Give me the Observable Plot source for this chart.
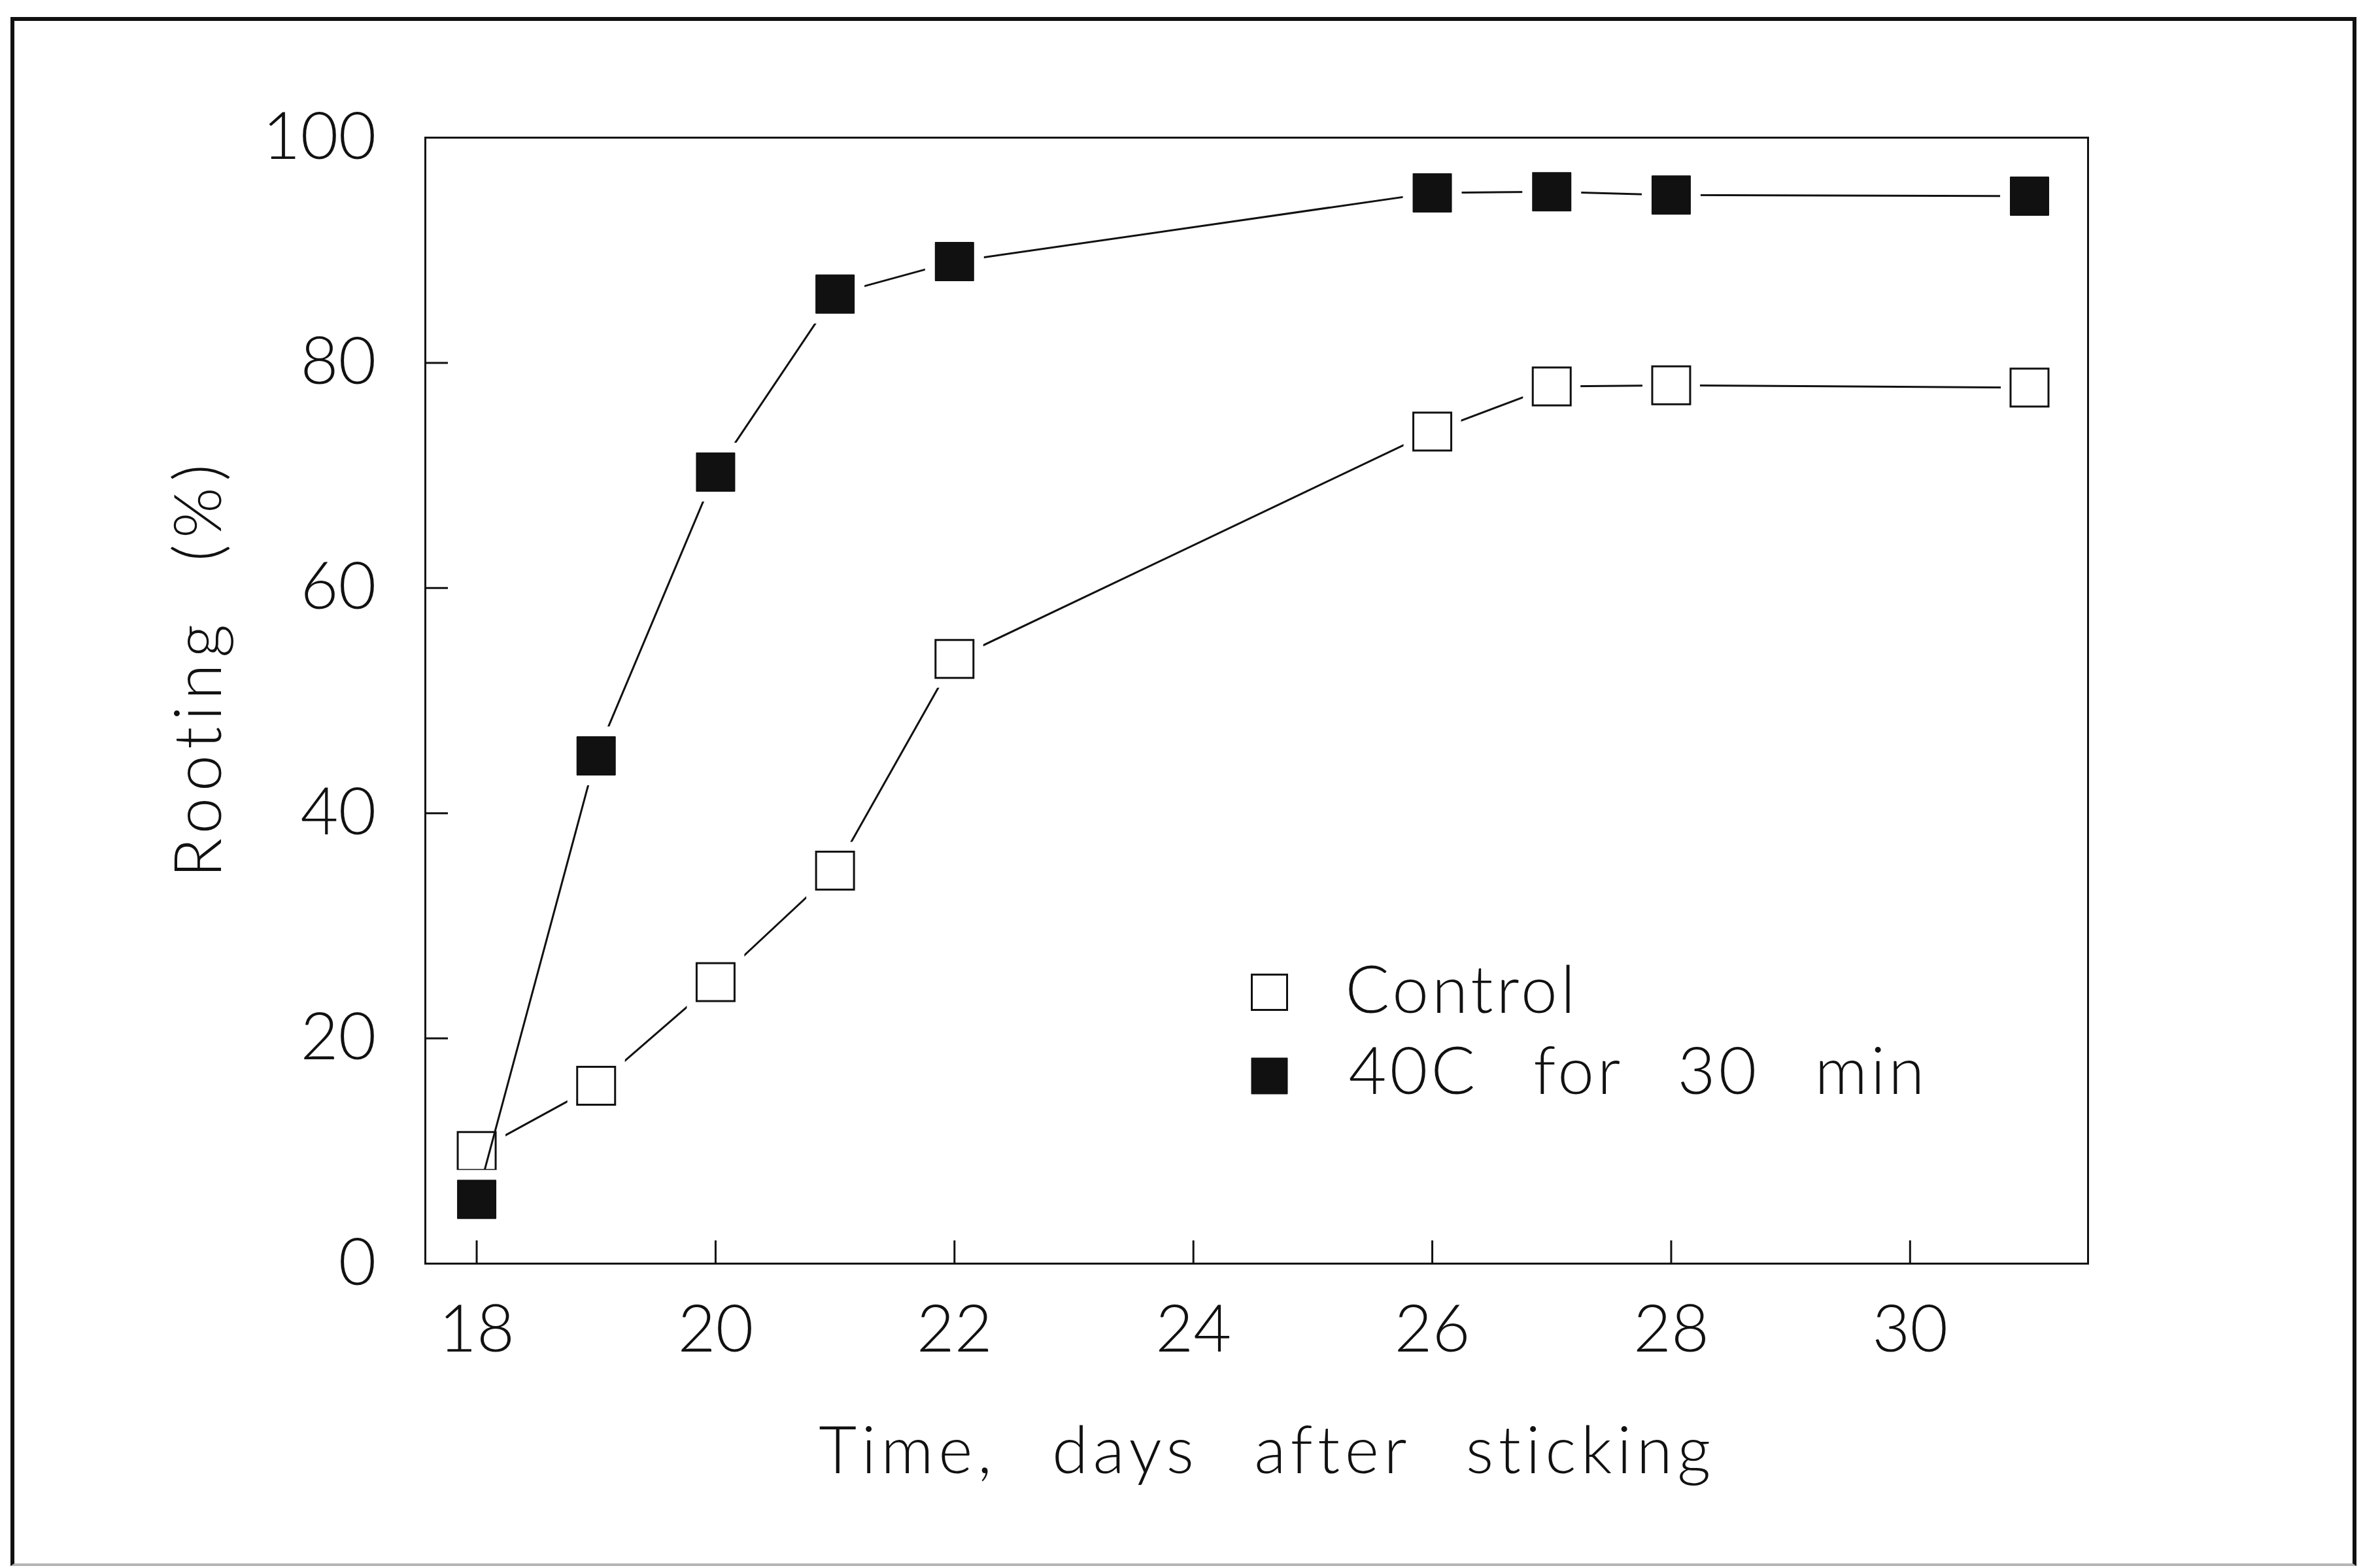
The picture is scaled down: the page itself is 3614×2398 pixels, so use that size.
<!DOCTYPE html>
<html>
<head>
<meta charset="utf-8">
<script src="https://cdn.jsdelivr.net/npm/d3@7"></script>
<script src="https://cdn.jsdelivr.net/npm/@observablehq/plot@0.6"></script>
<style>
  html, body { margin: 0; padding: 0; background: #fff; }
  #wrap { position: relative; width: 3614px; height: 2398px; overflow: hidden; background: #fff; }
  #border { position: absolute; left: 16px; top: 26px; width: 3588px; height: 2369px; box-sizing: border-box;
            border: 6px solid #111; border-bottom: 4px solid #b5b5b5; pointer-events: none; }
  #chart { position: absolute; left: 0; top: 0; }
  #chart g[aria-label="text"] text { letter-spacing: 9.5px; word-spacing: 50px; }
  #chart g[aria-label="text"] text.x-title { letter-spacing: 7.5px; word-spacing: 50px; }
  #chart g[aria-label="text"] text.legend-label { letter-spacing: 5px; word-spacing: 52px; }
</style>
</head>
<body>
<div id="wrap"><div id="chart"></div><div id="border"></div></div>
<script>
// ---- data ----
const days = [18, 19, 20, 21, 22, 26, 27, 28, 31];
const controlValues = [10.0, 15.8, 25.0, 34.9, 53.7, 73.9, 77.9, 78.0, 77.8];
const heatValues = [5.7, 45.1, 70.3, 86.1, 89.0, 95.1, 95.2, 94.9, 94.8];
const seriesNames = ["Control", "40C for 30 min"];
const xTicks = [18, 20, 22, 24, 26, 28, 30];
const yTicks = [0, 20, 40, 60, 80, 100];
const xLabel = "Time, days after sticking";
const yLabel = "Rooting (%)";

// ---- layout ----
const W = 3614, H = 2398;
const mL = 650, mR = 421, mT = 210, mB = 466;
const plotW = W - mL - mR, plotH = H - mT - mB;
const tickLen = 35;
const markerSide = 58;
const R = markerSide / Math.sqrt(Math.PI);
const legendR = 54 / Math.sqrt(Math.PI);
const ink = "#111";

const controlData = days.map((d, i) => ({day: d, value: controlValues[i]}));
const heatData = days.map((d, i) => ({day: d, value: heatValues[i]}));

const chart = Plot.plot({
  width: W, height: H,
  marginLeft: mL, marginRight: mR, marginTop: mT, marginBottom: mB,
  x: {domain: [17.57, 31.49], label: null},
  y: {domain: [0, 100], label: null},
  style: {fontFamily: "Lato, 'Open Sans', sans-serif", fontSize: "100px", fontWeight: 300, color: ink, background: "transparent"},
  marks: [
    Plot.frame({stroke: ink, strokeWidth: 3}),
    Plot.tickX(xTicks, {x: d => d, insetTop: plotH - tickLen, stroke: ink, strokeWidth: 3}),
    Plot.tickY(yTicks, {y: d => d, insetRight: plotW - tickLen, stroke: ink, strokeWidth: 3}),
    Plot.axisX(xTicks, {tickSize: 0, tickPadding: 63, fontSize: 100, label: null, tickFormat: d => String(d)}),
    Plot.axisY(yTicks, {tickSize: 0, tickPadding: 75, fontSize: 100, label: null, tickFormat: d => String(d)}),
    // Control series
    Plot.line(controlData, {x: "day", y: "value", stroke: ink, strokeWidth: 3}),
    Plot.dot(controlData, {x: "day", y: "value", symbol: "square", r: R, fill: "white", stroke: "white", strokeWidth: 30}),
    Plot.dot(controlData, {x: "day", y: "value", symbol: "square", r: R, fill: "white", stroke: ink, strokeWidth: 3}),
    // 40C series
    Plot.line(heatData, {x: "day", y: "value", stroke: ink, strokeWidth: 3}),
    Plot.dot(heatData, {x: "day", y: "value", symbol: "square", r: R, fill: "white", stroke: "white", strokeWidth: 32}),
    Plot.dot(heatData, {x: "day", y: "value", symbol: "square", r: R, fill: ink, stroke: ink, strokeWidth: 2, strokeLinejoin: "round"}),
    // legend
    Plot.dot([seriesNames[0]], {frameAnchor: "top-left", dx: 1941 - mL, dy: 1517 - mT, symbol: "square", r: legendR, fill: "white", stroke: ink, strokeWidth: 3}),
    Plot.dot([seriesNames[1]], {frameAnchor: "top-left", dx: 1941 - mL, dy: 1645 - mT, symbol: "square", r: legendR, fill: ink, stroke: ink, strokeWidth: 2, strokeLinejoin: "round"}),
    Plot.text([seriesNames[0]], {text: d => d, frameAnchor: "top-left", dx: 2057 - mL, dy: 1516 - mT, textAnchor: "start", lineAnchor: "middle", fontSize: 100}),
    Plot.text([seriesNames[1]], {text: d => d, frameAnchor: "top-left", dx: 2062 - mL, dy: 1640 - mT, textAnchor: "start", lineAnchor: "middle", fontSize: 100}),
    // axis titles
    Plot.text([xLabel], {text: d => d, frameAnchor: "bottom", dx: 16, dy: 288, textAnchor: "middle", lineAnchor: "middle", fontSize: 100}),
    Plot.text([yLabel], {text: d => d, frameAnchor: "left", rotate: -90, dx: -345, dy: -50, textAnchor: "middle", lineAnchor: "middle", fontSize: 100})
  ]
});
d3.select(chart).selectAll("text")
  .filter(function () { return seriesNames.includes(this.textContent); })
  .classed("legend-label", true);
d3.select(chart).selectAll("text")
  .filter(function () { return this.textContent === xLabel; })
  .classed("x-title", true);
document.getElementById("chart").appendChild(chart);
</script>
</body>
</html>
